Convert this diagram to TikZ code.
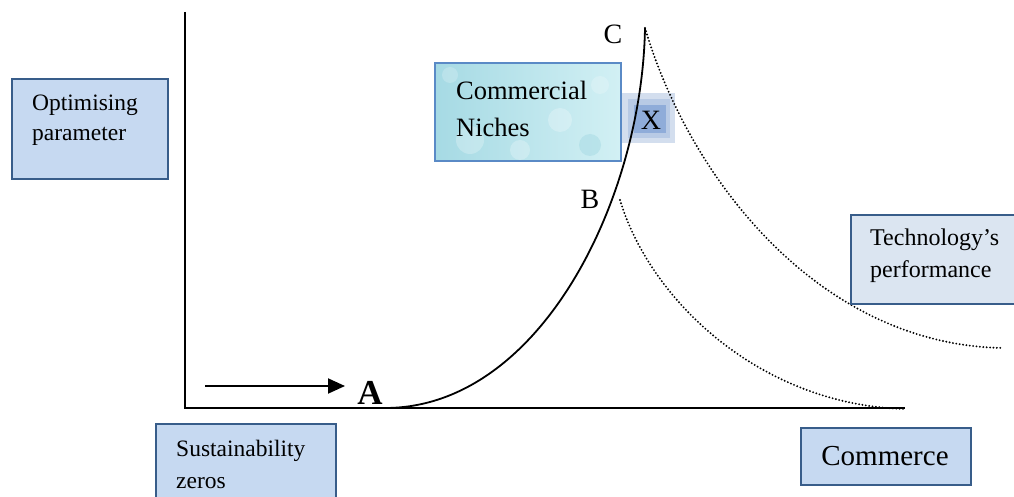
\documentclass[tikz,border=0pt]{standalone}
\usepackage{fontspec}
\setmainfont{Liberation Serif}
\usetikzlibrary{arrows.meta,shapes.geometric}
\definecolor{boxfill}{HTML}{C6D9F1}
\definecolor{boxdraw}{HTML}{385D8A}
\definecolor{techfill}{HTML}{DBE5F1}
\definecolor{nichedraw}{HTML}{5A8AC6}
\definecolor{nicheA}{HTML}{A6DAE4}
\definecolor{nicheB}{HTML}{D2F0F4}
\definecolor{xouter}{HTML}{D3DEEE}
\definecolor{xmid}{HTML}{B8CAE5}
\definecolor{xinner}{HTML}{8FACD9}
\tikzset{
  bluebox/.style={draw=boxdraw, fill=boxfill, line width=1.6pt, rectangle, inner sep=0pt, anchor=north west},
  txt/.style={inner sep=0pt, align=left, text=black},
  axisline/.style={line width=2pt, black},
  maincurve/.style={line width=1.8pt, black},
  dotcurve/.style={line width=2.1pt, black, line cap=round, dash pattern=on 0pt off 3.4pt},
  pointlabel/.style={inner sep=0pt, font=\fontsize{28}{30}\selectfont}
}
\begin{document}
\begin{tikzpicture}[x=1pt,y=-1pt]
\useasboundingbox (0,0) rectangle (1014,497);
% coordinates
\coordinate (O) at (185,408);
\coordinate (Ytop) at (185,12);
\coordinate (Xend) at (905,408);
\coordinate (Apt) at (385,408);
\coordinate (Bpt) at (620,200);
\coordinate (Cpt) at (645,28);
\coordinate (D1end) at (1003,348);
\coordinate (D2end) at (905,409);
\coordinate (arrS) at (205,386);
\coordinate (arrE) at (345,386);

% boxes
\node[bluebox, minimum width=156pt, minimum height=100pt] (optbox) at (11,78) {};
\node[txt, anchor=west, font=\fontsize{23.5}{30}\selectfont] (opttxt) at (32,120) {Optimising\\parameter};

\node[bluebox, minimum width=180pt, minimum height=90pt] (susbox) at (155,423) {};
\node[txt, anchor=west, font=\fontsize{23.5}{32}\selectfont] (sustxt) at (176,464) {Sustainability\\zeros};

\node[bluebox, minimum width=170pt, minimum height=57pt] (combox) at (800,427) {};
\node[txt, font=\fontsize{29}{32}\selectfont] (comtxt) at (885,456) {Commerce};

% commercial niches
\shade[left color=nicheA, right color=nicheB, draw=nichedraw, line width=1.6pt] (435,63) rectangle (621,161);
\begin{scope}
\clip (436,64) rectangle (620,160);
\fill[white, opacity=0.25] (470,140) circle (14);
\fill[white, opacity=0.25] (520,150) circle (10);
\fill[white, opacity=0.25] (560,120) circle (12);
\fill[white, opacity=0.2] (600,85) circle (9);
\fill[white, opacity=0.2] (450,75) circle (8);
\fill[nicheA, opacity=0.5] (590,145) circle (11);
\end{scope}
\node[txt, anchor=west, font=\fontsize{26.5}{37}\selectfont] (nichetxt) at (456,108.5) {Commercial\\Niches};

% X glow box
\fill[xouter] (622,93) rectangle (675,143);
\fill[xmid] (628,99) rectangle (670,138);
\fill[xinner] (634,105) rectangle (666,133);
\node[pointlabel] (xlab) at (651,120) {X};

% axes
\draw[axisline] (Ytop) -- (O) -- (Xend);

% arrow
\draw[line width=2pt, -{Triangle[length=17pt,width=15pt]}] (arrS) -- (arrE);

% curves
\draw[maincurve] (Apt) .. controls (540,408) and (642,200) .. (Cpt);
\draw[dotcurve] (Cpt) .. controls (690,180) and (820,345) .. (D1end);
\draw[dotcurve] (Bpt) .. controls (650,300) and (760,405) .. (D2end);

% technology box (on top of dotted curve)
\node[bluebox, fill=techfill, minimum width=164pt, minimum height=89pt] (techbox) at (850,214) {};
\node[txt, anchor=west, font=\fontsize{24}{32}\selectfont] (techtxt) at (870,256) {Technology’s\\performance};

% point labels
\node[inner sep=0pt, font=\bfseries\fontsize{35}{36}\selectfont] (alab) at (370,393) {A};
\node[pointlabel] (blab) at (590,199.5) {B};
\node[pointlabel] (clab) at (613,34.5) {C};
\end{tikzpicture}
\end{document}
